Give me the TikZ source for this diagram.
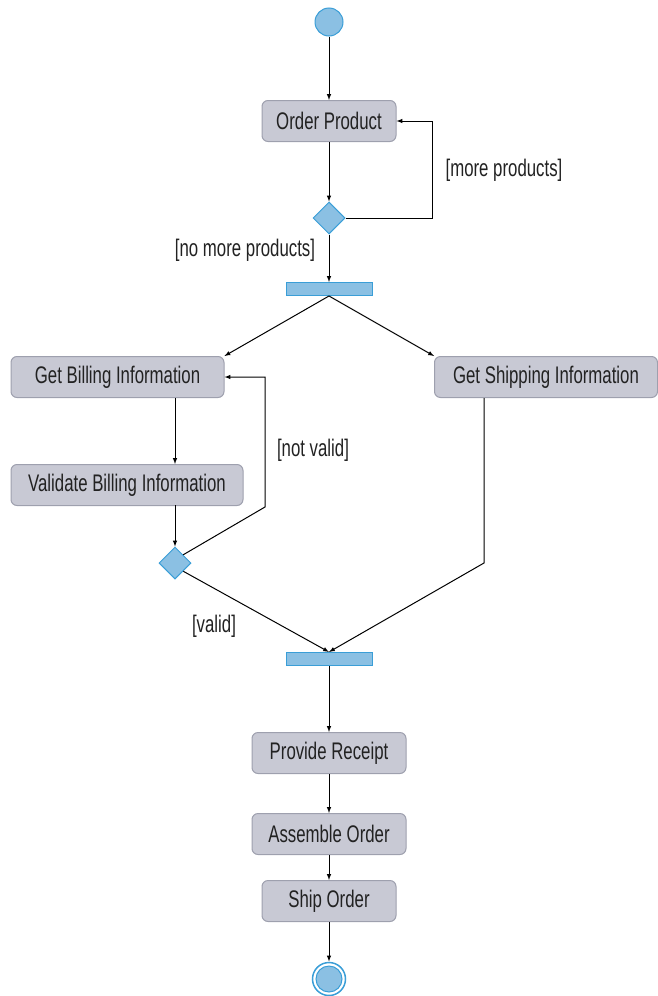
\documentclass[tikz,border=0pt]{standalone}
\usepackage{fontspec}
\setmainfont{Liberation Sans}[FakeStretch=0.7]
\usepackage{tikz}
\usetikzlibrary{shapes,arrows,positioning,fit,calc}

\definecolor{boxfill}{RGB}{200,201,212}
\definecolor{boxline}{RGB}{158,160,174}
\definecolor{bluefill}{RGB}{139,192,227}
\definecolor{blueline}{RGB}{58,158,215}
\definecolor{txt}{RGB}{34,34,34}

\tikzset{
    action/.style={rectangle,rounded corners=6pt,draw=boxline,fill=boxfill,line width=1pt,
        minimum height=41pt,text=txt,font=\fontsize{24}{28}\selectfont},
    decision/.style={diamond,draw=blueline,fill=bluefill,line width=1pt,minimum size=32pt,inner sep=0pt},
    forkbar/.style={rectangle,draw=blueline,fill=bluefill,line width=1pt,minimum width=86pt,minimum height=13pt,inner sep=0pt},
    startnode/.style={circle,draw=blueline,fill=bluefill,line width=1pt,minimum size=28pt,inner sep=0pt},
    guard/.style={text=txt,font=\fontsize{24}{28}\selectfont},
    flow/.style={->,>=latex,line width=1pt,black}
}

\begin{document}
\begin{tikzpicture}[x=1pt,y=-1pt]
    \useasboundingbox (0,0) rectangle (658,996);

    % nodes
    \node[startnode] (start) at (329,22) {};
    \node[action,minimum width=134pt] (order) at (329,121) {Order Product};
    \node[decision] (more) at (329,218) {};
    \node[forkbar] (fork) at (329,289) {};
    \node[action,minimum width=213pt] (billing) at (117.5,377) {Get Billing Information};
    \node[action,minimum width=223pt] (shipping) at (546,377) {Get Shipping Information};
    \node[action,minimum width=232pt] (validate) at (127,485) {Validate Billing Information};
    \node[decision] (valid) at (175,563) {};
    \node[forkbar] (join) at (329,659) {};
    \node[action,minimum width=154pt] (receipt) at (329,753) {Provide Receipt};
    \node[action,minimum width=154pt] (assemble) at (329,834) {Assemble Order};
    \node[action,minimum width=134pt] (ship) at (329,901) {Ship Order};
    \node[startnode,minimum size=26pt] (final) at (329,979) {};
    \draw[blueline,line width=1.5pt] (final.center) circle (16.5pt);

    % guards
    \node[guard] (lblmore) at (504,170) {[more products]};
    \node[guard] (lblnomore) at (245,250) {[no more products]};
    \node[guard] (lblnotvalid) at (313,450) {[not valid]};
    \node[guard] (lblvalid) at (214,626) {[valid]};

    % flows
    \draw[flow] (start) -- (order);
    \draw[flow] (order) -- (more);
    \draw[flow] (more.east) -- (432,218) -- (432,121) -- (order.east);
    \draw[flow] (more) -- (fork);
    \draw[flow] (fork.south) -- (billing.north east);
    \draw[flow] (fork.south) -- (shipping.north west);
    \draw[flow] (175,398) -- (175,464);
    \draw[flow] (175,505) -- (valid.north);
    \draw[flow] (valid.north east) -- (265,507) -- (265,377) -- (billing.east);
    \draw[flow] (valid.south east) -- (join.north);
    \draw[flow] (484,398) -- (484,563) -- (join.north);
    \draw[flow] (join) -- (receipt);
    \draw[flow] (receipt) -- (assemble);
    \draw[flow] (assemble) -- (ship);
    \draw[flow] (ship) -- ($(final.north)+(0,-4)$);
\end{tikzpicture}
\end{document}
